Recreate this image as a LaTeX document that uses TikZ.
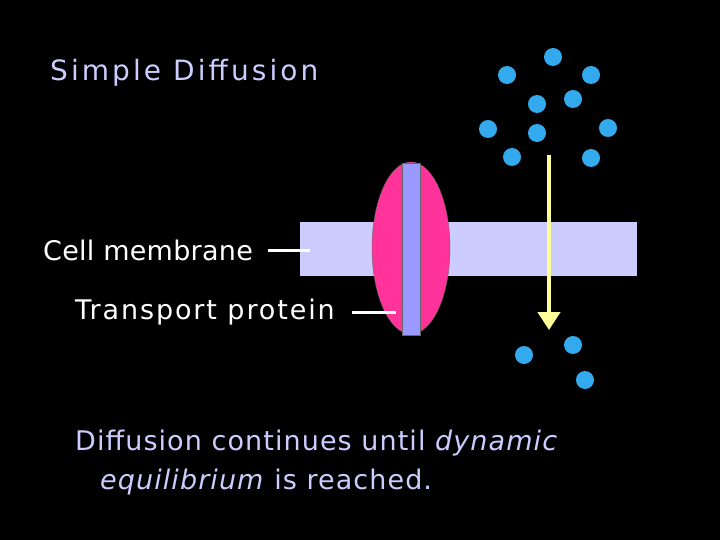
\documentclass[tikz,border=0pt]{standalone}
\usepackage{fontspec}
\setmainfont{DejaVu Sans}
\usetikzlibrary{shapes.geometric,arrows.meta}
\definecolor{lav}{HTML}{CCCCFF}
\definecolor{pinkp}{HTML}{FF3399}
\definecolor{barb}{HTML}{9999FF}
\definecolor{dotb}{HTML}{33AAEE}
\definecolor{yel}{HTML}{FFFF99}
\begin{document}
\begin{tikzpicture}[x=1pt,y=-1pt,
  lbl/.style={anchor=west,inner sep=0pt,font=\fontsize{27}{30}\selectfont\addfontfeature{LetterSpace=4}},
  dot/.style={circle,fill=dotb,minimum size=18pt,inner sep=0pt}]
\fill[black] (0,0) rectangle (720,540);
\useasboundingbox (0,0) rectangle (720,540);
\node[lbl,text=lav,font=\fontsize{28}{30}\selectfont\addfontfeature{LetterSpace=11}] (t) at (50,73) {Simple Diffusion};
\node[draw=none,fill=lav,minimum width=337pt,minimum height=54pt,anchor=north west,inner sep=0pt] (mem) at (300,222) {};
\node[ellipse,fill=pinkp,draw=black!60,minimum width=78pt,minimum height=172pt,inner sep=0pt] (prot) at (411,248) {};
\node[fill=barb,draw=black!60,minimum width=18pt,minimum height=172pt,inner sep=0pt] (bar) at (411,249) {};
\node[lbl,text=white,font=\fontsize{27}{30}\selectfont\addfontfeature{LetterSpace=1}] (cm) at (43,250) {Cell membrane};
\coordinate (cm1) at (268,250); \coordinate (cm2) at (310,250);
\draw[white,line width=3pt] (cm1) -- (cm2);
\node[lbl,text=white,font=\fontsize{27}{30}\selectfont\addfontfeature{LetterSpace=7}] (tp) at (75,312) {Transport protein};
\coordinate (tp1) at (352,312); \coordinate (tp2) at (396,312);
\draw[white,line width=3pt] (tp1) -- (tp2);
\coordinate (a1) at (549,155); \coordinate (a2) at (549,330);
\draw[yel,line width=4.5pt,-{Triangle[length=18pt,width=22pt]}] (a1) -- (a2);
\foreach \i/\x/\y in {1/553/57,2/507/75,3/591/75,4/537/104,5/573/99,6/488/129,7/537/133,8/608/128,9/512/157,10/591/158,11/524/355,12/573/345,13/585/380}
  \node[dot] (d\i) at (\x,\y) {};
\node[lbl,text=lav] (b1) at (75,443) {Diffusion continues until \textit{dynamic}};
\node[lbl,text=lav] (b2) at (100,482) {\textit{equilibrium} is reached.};
\end{tikzpicture}
\end{document}
